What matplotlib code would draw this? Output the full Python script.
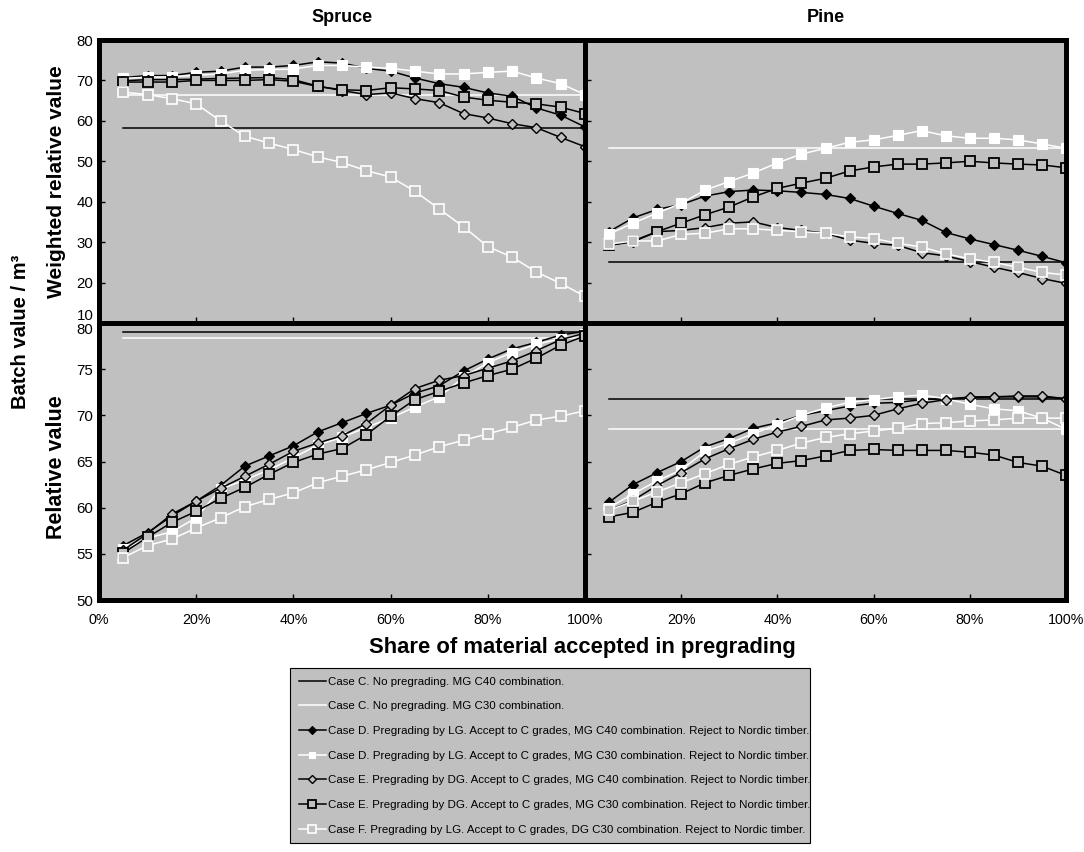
import matplotlib
matplotlib.use("Agg")
import matplotlib.pyplot as plt
from matplotlib.lines import Line2D

plt.rcParams['font.family'] = ['Liberation Sans', 'DejaVu Sans']

# ---------------- data ----------------
share = [5, 10, 15, 20, 25, 30, 35, 40, 45, 50, 55, 60, 65, 70, 75, 80, 85, 90, 95, 100]
share_ticks = [0, 20, 40, 60, 80, 100]
share_ticklabels = ["0%", "20%", "40%", "60%", "80%", "100%"]
top_yticks = [10, 20, 30, 40, 50, 60, 70, 80]
bottom_yticks = [50, 55, 60, 65, 70, 75, 80]

panel_titles = ["Spruce", "Pine"]

# Case C (no pregrading) constant levels per panel
caseC_C40 = {"spruce_w": 58.3, "pine_w": 25.0, "spruce_r": 79.0, "pine_r": 71.8}
caseC_C30 = {"spruce_w": 66.5, "pine_w": 53.2, "spruce_r": 78.4, "pine_r": 68.5}

# Weighted relative value - Spruce
spruce_w_D_C40 = [70.7, 71.2, 71.2, 72.0, 72.3, 73.3, 73.3, 73.7, 74.6, 74.3, 73.0, 72.3, 70.6, 69.2, 68.3, 66.9, 66.1, 63.2, 61.4, 58.5]
spruce_w_D_C30 = [70.5, 70.8, 70.9, 71.3, 71.6, 72.5, 72.7, 72.8, 73.7, 73.7, 73.3, 73.0, 72.3, 71.6, 71.6, 72.0, 72.3, 70.6, 69.2, 66.5]
spruce_w_E_C40 = [69.9, 70.2, 70.2, 70.3, 70.5, 70.6, 70.7, 70.2, 68.6, 67.5, 66.5, 66.9, 65.5, 64.5, 61.8, 60.7, 59.3, 58.3, 55.9, 53.6]
spruce_w_E_C30 = [69.6, 69.6, 69.6, 70.0, 70.0, 70.0, 70.2, 69.8, 68.5, 67.7, 67.5, 68.2, 67.9, 67.5, 65.9, 65.1, 64.6, 64.2, 63.4, 61.8]
spruce_w_F = [67.1, 66.5, 65.5, 64.2, 60.0, 56.2, 54.5, 52.9, 51.1, 49.7, 47.7, 46.1, 42.6, 38.2, 33.8, 28.9, 26.3, 22.6, 19.8, 16.6]

# Weighted relative value - Pine
pine_w_D_C40 = [32.6, 36.0, 38.1, 39.3, 41.4, 42.5, 42.9, 42.7, 42.3, 41.8, 40.8, 38.9, 37.1, 35.4, 32.4, 30.8, 29.4, 28.0, 26.5, 24.9]
pine_w_D_C30 = [32.0, 34.7, 37.2, 39.6, 42.9, 45.0, 47.1, 49.6, 51.8, 53.2, 54.7, 55.3, 56.4, 57.6, 56.3, 55.7, 55.7, 55.3, 54.3, 53.2]
pine_w_E_C40 = [29.2, 30.1, 32.6, 32.9, 33.6, 34.7, 35.0, 33.6, 32.9, 32.2, 30.5, 29.7, 29.2, 27.4, 26.6, 25.2, 23.8, 22.5, 21.0, 19.8]
pine_w_E_C30 = [29.2, 30.3, 32.6, 34.7, 36.8, 38.7, 41.2, 43.3, 44.6, 45.8, 47.6, 48.6, 49.3, 49.3, 49.6, 50.0, 49.6, 49.3, 49.1, 48.4]
pine_w_F = [29.5, 30.3, 30.3, 31.9, 32.2, 33.3, 33.3, 32.9, 32.6, 32.2, 31.3, 30.9, 29.7, 28.8, 27.1, 25.9, 25.0, 23.8, 22.5, 21.9]

# Relative value - Spruce
spruce_r_D_C40 = [55.9, 57.3, 59.1, 60.7, 62.4, 64.5, 65.6, 66.7, 68.2, 69.2, 70.2, 71.1, 72.4, 73.2, 74.8, 76.1, 77.2, 77.9, 78.7, 79.1]
spruce_r_D_C30 = [55.5, 56.7, 57.4, 58.9, 62.0, 63.0, 64.1, 65.4, 66.8, 67.6, 68.7, 69.7, 70.9, 72.0, 74.1, 75.7, 76.8, 77.7, 78.3, 78.8]
spruce_r_E_C40 = [55.4, 57.2, 59.3, 60.7, 62.1, 63.4, 64.7, 66.1, 67.0, 67.8, 69.1, 71.1, 72.9, 73.8, 74.3, 75.1, 75.9, 77.0, 78.2, 78.9]
spruce_r_E_C30 = [55.1, 56.8, 58.4, 59.6, 61.0, 62.2, 63.6, 64.9, 65.8, 66.4, 67.9, 69.9, 71.7, 72.6, 73.5, 74.3, 75.0, 76.2, 77.6, 78.6]
spruce_r_F = [54.6, 55.9, 56.6, 57.8, 58.9, 60.1, 60.9, 61.6, 62.7, 63.4, 64.1, 64.9, 65.7, 66.6, 67.3, 68.0, 68.7, 69.5, 69.9, 70.5]

# Relative value - Pine
pine_r_D_C40 = [60.6, 62.5, 63.8, 65.0, 66.6, 67.5, 68.6, 69.2, 70.0, 70.5, 71.0, 71.3, 71.4, 71.7, 71.8, 71.9, 72.0, 72.0, 72.0, 71.8]
pine_r_D_C30 = [60.0, 61.5, 62.9, 64.1, 66.1, 67.0, 68.0, 69.0, 70.0, 70.8, 71.4, 71.7, 72.0, 72.2, 71.8, 71.2, 70.7, 70.5, 69.7, 68.5]
pine_r_E_C40 = [59.7, 60.8, 62.4, 63.8, 65.3, 66.4, 67.4, 68.2, 68.8, 69.5, 69.7, 70.0, 70.7, 71.3, 71.7, 72.0, 72.0, 72.1, 72.1, 71.8]
pine_r_E_C30 = [59.0, 59.5, 60.6, 61.5, 62.7, 63.5, 64.2, 64.8, 65.1, 65.6, 66.2, 66.3, 66.2, 66.2, 66.2, 66.0, 65.7, 64.9, 64.5, 63.5]
pine_r_F = [59.7, 60.7, 61.7, 62.7, 63.7, 64.7, 65.5, 66.2, 67.0, 67.6, 68.0, 68.3, 68.6, 69.1, 69.2, 69.4, 69.5, 69.7, 69.7, 69.7]

legend_labels = [
    "Case C. No pregrading. MG C40 combination.",
    "Case C. No pregrading. MG C30 combination.",
    "Case D. Pregrading by LG. Accept to C grades, MG C40 combination. Reject to Nordic timber.",
    "Case D. Pregrading by LG. Accept to C grades, MG C30 combination. Reject to Nordic timber.",
    "Case E. Pregrading by DG. Accept to C grades, MG C40 combination. Reject to Nordic timber.",
    "Case E. Pregrading by DG. Accept to C grades, MG C30 combination. Reject to Nordic timber.",
    "Case F. Pregrading by LG. Accept to C grades, DG C30 combination. Reject to Nordic timber.",
]

# ---------------- styles ----------------
GRAY = "#C0C0C0"
LW = 1.1
sty_C40 = dict(color="black", lw=LW)
sty_C30 = dict(color="white", lw=LW)
sty_D40 = dict(color="black", lw=LW, marker="D", ms=5.2, mfc="black", mec="black", mew=0.8)
sty_D30 = dict(color="white", lw=LW, marker="s", ms=6.8, mfc="white", mec="white", mew=0.8)
sty_E40 = dict(color="black", lw=LW, marker="D", ms=5.2, mfc=GRAY, mec="black", mew=1.0)
sty_E30 = dict(color="black", lw=LW, marker="s", ms=7.6, mfc=GRAY, mec="black", mew=1.3)
sty_F = dict(color="white", lw=LW, marker="s", ms=7.4, mfc=GRAY, mec="white", mew=1.2)

W, H = 1084, 852
fig = plt.figure(figsize=(W / 100, H / 100), dpi=100)
xL, xM, xR = 99 / W, 585 / W, 1066 / W
yT, yC, yB = 1 - 40 / H, 1 - 323 / H, 1 - 600 / H

panels = [
    ("spruce_w", [xL, yC, xM - xL, yT - yC], (10, 80), top_yticks, True, False,
     [spruce_w_D_C40, spruce_w_D_C30, spruce_w_E_C40, spruce_w_E_C30, spruce_w_F]),
    ("pine_w", [xM, yC, xR - xM, yT - yC], (10, 80), top_yticks, False, False,
     [pine_w_D_C40, pine_w_D_C30, pine_w_E_C40, pine_w_E_C30, pine_w_F]),
    ("spruce_r", [xL, yB, xM - xL, yC - yB], (50, 80), bottom_yticks, True, True,
     [spruce_r_D_C40, spruce_r_D_C30, spruce_r_E_C40, spruce_r_E_C30, spruce_r_F]),
    ("pine_r", [xM, yB, xR - xM, yC - yB], (50, 80), bottom_yticks, False, True,
     [pine_r_D_C40, pine_r_D_C30, pine_r_E_C40, pine_r_E_C30, pine_r_F]),
]

axes = {}
for key, rect, ylim, yticks, show_y, show_x, series in panels:
    ax = fig.add_axes(rect)
    axes[key] = ax
    ax.set_facecolor(GRAY)
    ax.plot([share[0], share[-1]], [caseC_C40[key]] * 2, **sty_C40)
    ax.plot([share[0], share[-1]], [caseC_C30[key]] * 2, **sty_C30)
    for vals, st in zip(series, [sty_D40, sty_D30, sty_E40, sty_E30, sty_F]):
        ax.plot(share, vals, **st)
    ax.set_xlim(0, 100)
    ax.set_ylim(*ylim)
    ax.set_xticks(share_ticks)
    ax.set_yticks(yticks)
    for s in ax.spines.values():
        s.set_linewidth(3.6)
        s.set_color("black")
    ax.tick_params(direction="in", length=4, width=1, labelsize=10.8, pad=4)
    if show_y:
        ax.set_yticklabels([str(v) for v in yticks])
    else:
        ax.set_yticklabels([])
    if show_x:
        labels = list(share_ticklabels)
        if not show_y:
            labels[0] = ""
        ax.set_xticklabels(labels)
        ax.tick_params(axis="x", labelsize=10.3, pad=9)
    else:
        ax.set_xticklabels([])

# separate the overlapping "10" / "80" labels at the panel joint
axes["spruce_w"].get_yticklabels()[0].set_va("bottom")
axes["spruce_r"].get_yticklabels()[-1].set_va("top")

# titles and axis labels
fig.text((xL + xM) / 2, 1 - 18 / H, panel_titles[0], ha="center", va="center", fontsize=13, fontweight="bold")
fig.text((xM + xR) / 2, 1 - 18 / H, panel_titles[1], ha="center", va="center", fontsize=13, fontweight="bold")
fig.text(57 / W, (yT + yC) / 2, "Weighted relative value", rotation=90, ha="center", va="center",
         fontsize=15, fontweight="bold")
fig.text(57 / W, (yC + yB) / 2 - 6 / H, "Relative value", rotation=90, ha="center", va="center",
         fontsize=15.5, fontweight="bold")
fig.text(21 / W, 1 - 332 / H, "Batch value / m³", rotation=90, ha="center", va="center",
         fontsize=14.5, fontweight="bold")
fig.text(582 / W, 1 - 648 / H, "Share of material accepted in pregrading", ha="center", va="center",
         fontsize=15.8, fontweight="bold")

# legend
handles = [Line2D([], [], **st) for st in [sty_C40, sty_C30, sty_D40, sty_D30, sty_E40, sty_E30, sty_F]]
leg = fig.legend(handles, legend_labels, loc="upper left",
                 bbox_to_anchor=(290 / W, 1 - 848 / H, 520 / W, 180 / H), mode="expand",
                 borderaxespad=0, fontsize=8.25, labelspacing=1.28, handlelength=2.4,
                 handletextpad=0.2, markerscale=0.7, fancybox=False, framealpha=1,
                 borderpad=0.75)
leg.get_frame().set_facecolor(GRAY)
leg.get_frame().set_edgecolor("black")
leg.get_frame().set_linewidth(0.8)

fig.savefig("out.png", dpi=100)
